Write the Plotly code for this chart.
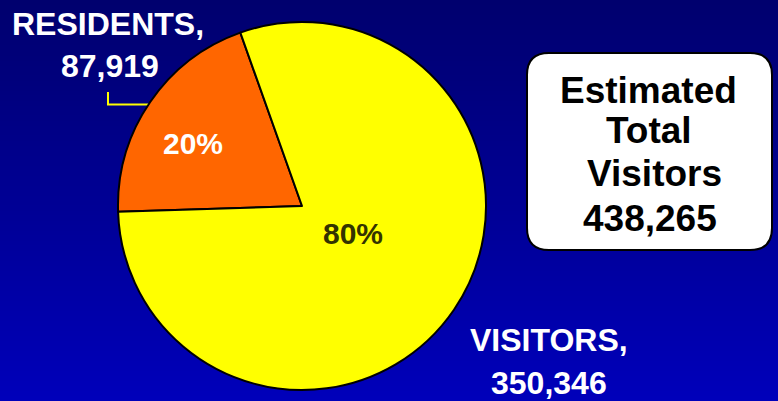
import plotly.graph_objects as go

# ---- data ----
categories = ["RESIDENTS", "VISITORS"]
values = [87919, 350346]
slice_colors = ["#FF6600", "#FFFF00"]
total_label = "438,265"

W, H = 778, 401
total = sum(values)
pcts = [round(v / total * 100) for v in values]

fig = go.Figure()

fig.add_trace(go.Pie(
    labels=categories,
    values=values,
    sort=False,
    direction="clockwise",
    rotation=268.2,
    marker=dict(colors=slice_colors, line=dict(color="black", width=2)),
    textinfo="none",
    hoverinfo="label+value+percent",
    showlegend=False,
    domain=dict(x=[118 / W, 486 / W], y=[(H - 390) / H, (H - 22) / H]),
))

# ---- gradient background (strips) ----
shapes = []
N = 80
top = (0, 0, 0x6e)
bot = (0, 0, 0xba)
for i in range(N):
    t = i / (N - 1)
    c = tuple(int(round(top[k] + (bot[k] - top[k]) * t)) for k in range(3))
    shapes.append(dict(
        type="rect", xref="paper", yref="paper",
        x0=0, x1=1, y0=1 - (i + 1) / N - 0.002, y1=1 - i / N,
        fillcolor="rgb(%d,%d,%d)" % c, line=dict(width=0), layer="below",
    ))

def px(x):
    return x / W

def py(y):
    return 1 - y / H

# leader line for residents
shapes.append(dict(type="path", xref="paper", yref="paper",
                   path="M %f,%f L %f,%f L %f,%f" % (px(108), py(92), px(108), py(104.5), px(152), py(104.5)),
                   line=dict(color="#FFFF00", width=2), layer="below"))

# rounded box
x0, x1, y0, y1, r = 527, 772, 53, 250, 22
path = (f"M {px(x0+r)},{py(y0)} L {px(x1-r)},{py(y0)} "
        f"Q {px(x1)},{py(y0)} {px(x1)},{py(y0+r)} L {px(x1)},{py(y1-r)} "
        f"Q {px(x1)},{py(y1)} {px(x1-r)},{py(y1)} L {px(x0+r)},{py(y1)} "
        f"Q {px(x0)},{py(y1)} {px(x0)},{py(y1-r)} L {px(x0)},{py(y0+r)} "
        f"Q {px(x0)},{py(y0)} {px(x0+r)},{py(y0)} Z")
shapes.append(dict(type="path", xref="paper", yref="paper", path=path,
                   fillcolor="white", line=dict(color="black", width=2), layer="above"))

FONT = "Liberation Sans, Arial, sans-serif"

def ann(text, x, y, color, size=32):
    return dict(text="<b>%s</b>" % text, x=px(x), y=py(y), xref="paper", yref="paper",
                showarrow=False, xanchor="center", yanchor="middle",
                font=dict(family=FONT, size=size, color=color))

annotations = [
    ann(categories[0] + ",", 108, 24, "white"),
    ann(f"{values[0]:,}", 110, 66, "white"),
    ann(categories[1] + ",", 549, 340, "white"),
    ann(f"{values[1]:,}", 549, 383, "white"),
    ann(f"{pcts[0]}%", 193, 143, "white", 30),
    ann(f"{pcts[1]}%", 353, 234, "#333300", 30),
    ann("Estimated", 648.5, 90.5, "black", 37),
    ann("Total", 649, 130.5, "black", 37),
    ann("Visitors", 654.5, 173.5, "black", 37),
    ann(total_label, 650, 218, "black", 37),
]

fig.update_layout(
    width=W, height=H,
    margin=dict(l=0, r=0, t=0, b=0),
    paper_bgcolor="#000090",
    plot_bgcolor="#000090",
    shapes=shapes,
    annotations=annotations,
)

fig.write_html("out.html", config={"displayModeBar": False},
               post_script="document.body.style.margin='0';")
